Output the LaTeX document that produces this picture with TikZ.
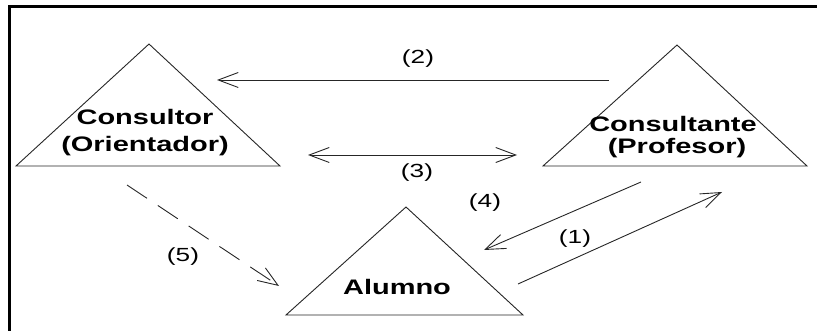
\documentclass[tikz,border=0pt]{standalone}
\usepackage{fontspec}
\setmainfont{Liberation Sans}
\newfontfamily\arialw{Liberation Sans}[FakeStretch=1.38]
\usetikzlibrary{arrows.meta}
\begin{document}
\begin{tikzpicture}[x=1pt,y=-1pt,
  tri/.style={draw=black!85, line width=0.9pt, line join=miter},
  conn/.style={draw=black!85, line width=0.9pt, -{Straight Barb[length=20pt,width=15pt,line width=0.9pt]}},
  dconn/.style={conn, dash pattern=on 24pt off 13pt},
  both/.style={conn, {Straight Barb[length=20pt,width=15pt,line width=0.9pt]}-{Straight Barb[length=20pt,width=15pt,line width=0.9pt]}},
  tname/.style={font=\arialw\bfseries\fontsize{21}{24}\selectfont, inner sep=0pt, align=center},
  tlab/.style={font=\arialw\fontsize{19}{21}\selectfont, inner sep=0pt}]
\useasboundingbox (0,0) rectangle (817,331);
% frame (only top and left edges visible)
\draw[line width=3pt] (9.5,340) -- (9.5,6.5) -- (830,6.5);
% triangles
\draw[tri] (149,44) -- (280,166) -- (16,166) -- cycle;
\draw[tri] (677,45) -- (807,166) -- (543,166) -- cycle;
\draw[tri] (406,207) -- (523,315) -- (286,315) -- cycle;
% names
\node[tname] (c1) at (145,117) {Consultor};
\node[tname] (c2) at (145,146) {(Orientador)};
\node[tname] (p1) at (673,124) {Consultante};
\node[tname] (p2) at (677,148) {(Profesor)};
\node[tname] (al) at (397,287) {Alumno};
% connector end points
\coordinate (a2s) at (609,80);
\coordinate (a2e) at (217,80);
\coordinate (a3s) at (308,155);
\coordinate (a3e) at (517,155);
\coordinate (a4s) at (641,182);
\coordinate (a4e) at (484,250);
\coordinate (a1s) at (518,284);
\coordinate (a1e) at (722,192);
\coordinate (a5s) at (127,185);
\coordinate (a5e) at (279,286);
\draw[conn] (a2s) -- (a2e);
\draw[both] (a3s) -- (a3e);
\draw[conn] (a4s) -- (a4e);
\draw[conn] (a1s) -- (a1e);
\draw[dconn] (a5s) -- (a5e);
% labels
\node[tlab] (l2) at (418,59) {(2)};
\node[tlab] (l3) at (417,173) {(3)};
\node[tlab] (l4) at (485,203) {(4)};
\node[tlab] (l1) at (575,239) {(1)};
\node[tlab] (l5) at (183,257) {(5)};
\end{tikzpicture}
\end{document}
